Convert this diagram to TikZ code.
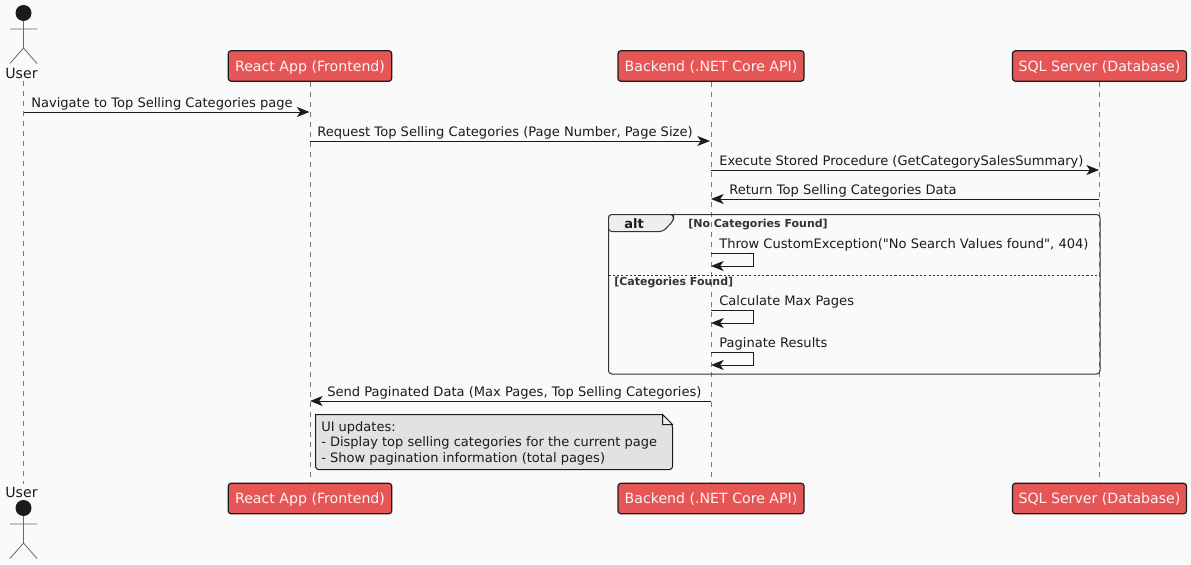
\documentclass[tikz,border=0pt]{standalone}
\usepackage{fontspec}
\setmainfont{DejaVu Sans}[Ligatures=TeXOff]
\usetikzlibrary{arrows.meta}
\definecolor{bgc}{HTML}{FAFAFA}
\definecolor{boxc}{HTML}{E65656}
\definecolor{inkc}{HTML}{1B1B1B}
\definecolor{notec}{HTML}{E2E2E2}
\definecolor{tabc}{HTML}{EEEEEE}
\definecolor{framec}{HTML}{333333}
\definecolor{lifec}{HTML}{7A7A7A}
\newcommand{\fs}{\fontsize{9.8pt}{11.7pt}\selectfont}
\newcommand{\fn}{\fontsize{9.75pt}{11.7pt}\selectfont}
\newcommand{\fl}{\fontsize{10.6pt}{12.7pt}\selectfont}
\newcommand{\fb}{\fontsize{8.25pt}{10pt}\selectfont\bfseries}
\tikzset{
  x=0.75pt,y=-0.75pt,
  partbox/.style={draw=inkc,line width=0.9pt,fill=boxc,rounded corners=2.2pt,minimum height=22.9pt,inner sep=0pt,text=white!93!boxc,font=\fl,text height=9.5pt,text depth=2pt},
  actorlabel/.style={inner sep=0pt,font=\fl,text=inkc},
  life/.style={draw=lifec,line width=0.6pt,dash pattern=on 3.75pt off 3.75pt},
  msg/.style={draw=inkc,line width=0.75pt,-{Stealth[length=9.5pt,width=7.5pt,inset=2.6pt]}},
  msgtext/.style={inner sep=0pt,anchor=base west,font=\fs,text=inkc},
  notetext/.style={inner sep=0pt,anchor=base west,font=\fn,text=inkc},
  guard/.style={inner sep=0pt,anchor=base west,font=\fb,text=framec},
  stick/.style={draw=lifec!85!black,line width=0.6pt},
  frameline/.style={draw=framec,line width=0.75pt},
}
\begin{document}
\begin{tikzpicture}
\useasboundingbox[fill=bgc] (0,0) rectangle (1191,564);
% participants
\node[actorlabel] (ut) at (21.5,73) {User};
\node[actorlabel] (ub) at (21.5,492) {User};
\node[partbox,minimum width=122.6pt] (rt) at (310,66) {React App (Frontend)};
\node[partbox,minimum width=139.5pt] (bt) at (711,66) {Backend (.NET Core API)};
\node[partbox,minimum width=130.5pt] (st) at (1099.5,66) {SQL Server (Database)};
\node[partbox,minimum width=122.6pt] (rb) at (310,498.5) {React App (Frontend)};
\node[partbox,minimum width=139.5pt] (bb) at (711,498.5) {Backend (.NET Core API)};
\node[partbox,minimum width=130.5pt] (sb) at (1099.5,498.5) {SQL Server (Database)};
% lifelines
\coordinate (ul1) at (23.5,81); \coordinate (ul2) at (23.5,484);
\draw[life] (ul1) -- (ul2);
\draw[life] (rt.south) -- (rb.north);
\draw[life] (bt.south) -- (bb.north);
\draw[life] (st.south) -- (sb.north);
% actors
\fill[inkc] (23.5,13) circle (6pt);
\draw[stick] (23.5,21) -- (23.5,48) (10,29) -- (37,29) (10,63.5) -- (23.5,48) -- (37,63.5);
\fill[inkc] (23.5,508) circle (6pt);
\draw[stick] (23.5,516) -- (23.5,543) (10,524) -- (37,524) (10,558.5) -- (23.5,543) -- (37,558.5);
% alt frame
\draw[frameline,fill=none,rounded corners=2.5pt] (608.5,214.5) rectangle (1100,374);
\draw[frameline,fill=tabc,rounded corners=2.5pt] (608.5,231.5) -- (608.5,214.5) -- (673.5,214.5) -- (673.5,220.5) -- (663,231.5) -- cycle;
\draw[frameline,line width=0.6pt,dash pattern=on 1.6pt off 1.6pt] (608.5,275.5) -- (1100,275.5);
\node[inner sep=0pt,anchor=base west,font=\fontsize{9.75pt}{11pt}\selectfont\bfseries,text=inkc] (alttag) at (624,228) {alt};
\node[guard] (g1) at (688,227) {[No Categories Found]};
\node[guard] (g2) at (614,285.5) {[Categories Found]};
% message anchors
\coordinate (u1) at (23.5,112); \coordinate (r1) at (309.5,112);
\coordinate (r2) at (310,141); \coordinate (b2) at (710,141);
\coordinate (b3) at (711,170); \coordinate (s3) at (1099,170);
\coordinate (s4) at (1099,199); \coordinate (b4) at (711,199);
\coordinate (a1) at (711,253); \coordinate (a2) at (753.5,253); \coordinate (a3) at (753.5,266); \coordinate (a4) at (711,266);
\coordinate (c1) at (711,310); \coordinate (c2) at (753.5,310); \coordinate (c3) at (753.5,323); \coordinate (c4) at (711,323);
\coordinate (d1) at (711,352); \coordinate (d2) at (753.5,352); \coordinate (d3) at (753.5,365); \coordinate (d4) at (711,365);
\coordinate (b5) at (711,401); \coordinate (r5) at (310,401);
% messages
\draw[msg] (u1) -- (r1);
\draw[msg] (r2) -- (b2);
\draw[msg] (b3) -- (s3);
\draw[msg] (s4) -- (b4);
\draw[msg] (a1) -- (a2) -- (a3) -- (a4);
\draw[msg] (c1) -- (c2) -- (c3) -- (c4);
\draw[msg] (d1) -- (d2) -- (d3) -- (d4);
\draw[msg] (b5) -- (r5);
\node[msgtext] (t1) at (31,107) {Navigate to Top Selling Categories page};
\node[msgtext] (t2) at (317,136) {Request Top Selling Categories (Page Number, Page Size)};
\node[msgtext] (t3) at (719,165) {Execute Stored Procedure (GetCategorySalesSummary)};
\node[msgtext] (t4) at (729,194.5) {Return Top Selling Categories Data};
\node[msgtext] (t5) at (719,248) {Throw CustomException("No Search Values found", 404)};
\node[msgtext] (t6) at (719,305) {Calculate Max Pages};
\node[msgtext] (t7) at (719,347) {Paginate Results};
\node[msgtext] (t8) at (327,396) {Send Paginated Data (Max Pages, Top Selling Categories)};
% note
\draw[draw=inkc,line width=0.75pt,fill=notec,rounded corners=2.2pt] (315.5,414.5) -- (315.5,469.5) -- (672.5,469.5) -- (672.5,424.5) [sharp corners] -- (662.5,414.5) -- cycle;
\draw[draw=inkc,line width=0.75pt,fill=bgc!40!notec] (662.5,414.5) -- (662.5,424.5) -- (672.5,424.5) -- cycle;
\node[notetext] (n1) at (321,431) {UI updates:};
\node[notetext] (n2) at (321,446) {- Display top selling categories for the current page};
\node[notetext] (n3) at (321,462) {- Show pagination information (total pages)};
\end{tikzpicture}
\end{document}
